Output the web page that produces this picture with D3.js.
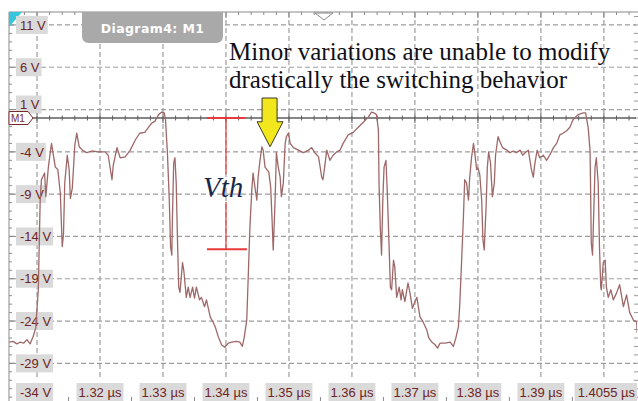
<!DOCTYPE html>
<html><head><meta charset="utf-8">
<script src="https://cdn.jsdelivr.net/npm/d3@7"></script>
<style>html,body{margin:0;padding:0;background:#fff;overflow:hidden}</style>
</head><body><svg id="c" width="638" height="401"></svg>
<script>
// ---- data ----
const timeNs = [
1305.6,1306.2,1306.8,1307.3,1307.9,1308.4,1308.9,1309.4,1309.8,1310.2,
1310.5,1310.7,1311.2,1311.4,1311.8,1312.3,1312.9,1313.3,1313.7,1314.0,
1314.2,1314.4,1314.8,1315.1,1315.3,1315.6,1315.8,1316.0,1316.3,1316.7,
1317.2,1317.9,1318.7,1319.7,1320.8,1321.3,1321.9,1322.1,1322.7,1323.2,
1324.0,1324.8,1325.6,1326.3,1327.1,1328.2,1328.7,1329.3,1329.8,1330.2,
1330.4,1330.7,1331.0,1331.2,1331.4,1331.5,1331.7,1331.9,1332.1,1332.3,
1332.5,1332.7,1333.1,1333.3,1333.7,1334.0,1334.3,1334.7,1335.0,1335.3,
1335.8,1336.1,1336.6,1336.9,1337.5,1338.0,1338.3,1338.8,1339.3,1339.8,
1340.4,1340.9,1341.7,1342.2,1342.6,1342.9,1343.3,1343.5,1343.8,1344.1,
1344.3,1344.6,1344.9,1345.1,1345.4,1345.7,1345.9,1346.2,1346.5,1346.8,
1347.1,1347.3,1347.5,1347.8,1348.0,1348.3,1348.6,1348.8,1349.1,1349.4,
1349.6,1349.9,1350.2,1350.7,1351.5,1352.3,1353.1,1353.6,1354.1,1354.7,
1355.2,1355.4,1355.7,1356.0,1356.5,1357.0,1357.6,1358.1,1358.6,1359.4,
1360.2,1361.0,1361.8,1362.6,1363.1,1363.5,1363.9,1364.2,1364.3,1364.5,
1364.7,1364.9,1365.1,1365.4,1365.6,1365.9,1366.1,1366.3,1366.6,1366.8,
1367.1,1367.5,1367.8,1368.0,1368.4,1368.9,1369.2,1369.6,1369.9,1370.3,
1370.5,1370.8,1371.3,1371.9,1372.2,1372.7,1373.2,1373.6,1374.0,1374.8,
1375.6,1376.1,1376.5,1376.9,1377.1,1377.4,1377.7,1377.9,1378.2,1378.5,
1378.7,1379.0,1379.3,1379.5,1379.8,1380.0,1380.3,1380.6,1380.8,1381.0,
1381.3,1381.5,1381.7,1382.0,1382.3,1382.6,1382.8,1383.2,1383.5,1383.9,
1384.6,1385.1,1385.6,1386.1,1386.7,1387.1,1387.5,1388.0,1388.5,1388.8,
1389.0,1389.4,1389.8,1390.4,1390.9,1391.4,1392.0,1392.5,1393.0,1393.5,
1394.1,1394.6,1395.1,1395.9,1396.7,1397.1,1397.5,1397.8,1397.9,1398.0,
1398.2,1398.4,1398.6,1398.8,1399.1,1399.3,1399.5,1399.6,1399.9,1400.2,
1400.4,1400.7,1401.1,1401.5,1402.0,1402.5,1403.1,1403.6,1404.1,1404.7,
1405.2,1405.3];
const voltage = [
-26.5,-26.4,-26.7,-26.5,-26.6,-26.2,-26.7,-25.8,-24.8,-20.3,
-9.7,-7.3,-6.5,-9.3,-5.8,-3.0,-5.8,-6.1,-8.9,-15.2,
-13.8,-7.7,-4.4,-6.1,-9.5,-8.3,-5.8,-3.2,-1.8,-3.4,
-3.8,-4.1,-3.9,-4.0,-4.0,-4.4,-7.3,-5.6,-3.5,-4.7,
-4.6,-3.8,-2.6,-1.8,-1.7,-0.6,-0.4,0.4,0.7,0.6,
-0.2,-4.1,-9.7,-15.2,-16.2,-11.7,-5.3,-4.7,-7.7,-14.4,
-20.0,-20.6,-17.1,-18.0,-21.2,-20.0,-21.2,-20.0,-21.3,-20.0,
-21.5,-21.2,-22.3,-21.5,-23.5,-24.2,-24.7,-25.9,-26.8,-27.1,
-26.6,-26.5,-26.4,-26.5,-27.0,-25.9,-23.9,-19.5,-12.9,-8.5,
-6.5,-8.2,-9.7,-7.0,-5.0,-3.4,-3.8,-5.8,-6.1,-6.4,
-8.2,-11.7,-15.6,-9.7,-4.1,-5.8,-7.0,-9.3,-7.7,-3.0,
-2.2,-1.8,-3.0,-3.5,-3.8,-4.1,-3.8,-3.5,-4.1,-4.6,
-7.0,-7.3,-5.6,-3.8,-5.0,-4.4,-4.0,-3.8,-3.0,-2.0,
-1.7,-1.1,-0.5,0.1,0.7,0.6,0.4,-1.4,-7.7,-12.9,
-16.2,-9.7,-5.8,-5.0,-8.5,-15.2,-20.0,-20.3,-16.8,-17.6,
-21.2,-20.0,-21.5,-20.3,-21.7,-19.5,-20.6,-22.5,-21.9,-21.2,
-22.1,-23.5,-24.1,-25.1,-26.0,-26.5,-26.8,-27.2,-26.6,-26.6,
-26.5,-27.0,-26.0,-24.7,-22.3,-17.1,-11.7,-7.3,-7.7,-9.7,
-7.0,-4.6,-3.0,-4.1,-6.1,-5.9,-6.7,-9.7,-14.4,-15.6,
-10.5,-5.8,-4.0,-5.3,-9.3,-7.7,-4.4,-2.2,-2.8,-3.5,
-3.8,-4.1,-3.9,-4.1,-3.8,-4.4,-4.1,-3.8,-6.1,-7.0,
-5.6,-3.8,-4.7,-4.4,-5.0,-4.4,-3.5,-3.0,-2.0,-1.8,
-1.5,-1.1,-0.2,0.4,0.6,0.6,-1.1,-3.8,-8.9,-14.8,
-16.2,-10.9,-5.8,-4.7,-7.7,-15.2,-20.0,-20.3,-17.1,-16.8,
-20.0,-21.2,-20.3,-21.5,-20.7,-19.7,-22.3,-20.9,-23.0,-23.9,
-24.1,-25.4];

const yTickValues = [11, 6, 1, -4, -9, -14, -19, -24, -29, -34];
const yTickLabels = ["11 V", "6 V", "1 V", "-4 V", "-9 V", "-14 V", "-19 V", "-24 V", "-29 V", "-34 V"];
const xGridValues = [1310, 1320, 1330, 1340, 1350, 1360, 1370, 1380, 1390, 1400];
const xTickValues = [1320, 1330, 1340, 1350, 1360, 1370, 1380, 1390];
const xTickLabels = ["1.32 µs", "1.33 µs", "1.34 µs", "1.35 µs", "1.36 µs", "1.37 µs", "1.38 µs", "1.39 µs"];
const xEndLabel = "1.4055 µs";
const tabTitle = "Diagram4: M1";
const markerLabel = "M1";
const noteLines = ["Minor variations are unable to modify", "drastically the switching behavior"];
const vthLabel = "Vth";
const vthTime = 1340, vthTop = 0, vthBottom = -15.5;
const arrowTime = 1347.0, arrowTipV = -3.4;

// ---- layout ----
const svg = d3.select("#c");
const L = 9, T = 12, R = 636, B = 401;
const x = d3.scaleLinear().domain([1305.55, 1405.1]).range([L, R]);
const y = d3.scaleLinear().domain([12.53, -33.45]).range([T, B]);
const gridCol = "#9d9d9d", labelFill = "#dadada", labelCol = "#6e2424";
const font = "'Liberation Sans', Arial, sans-serif";

// frame
svg.append("line").attr("x1", L).attr("x2", R + 2).attr("y1", T).attr("y2", T).attr("stroke", "#8a8a8a").attr("stroke-width", 1);
svg.append("line").attr("x1", L).attr("x2", L).attr("y1", T).attr("y2", B).attr("stroke", "#8a8a8a").attr("stroke-width", 1);

// grid
svg.append("g").selectAll("line").data(yTickValues.filter(v => v > -34)).join("line")
  .attr("x1", L).attr("x2", R).attr("y1", d => y(d)).attr("y2", d => y(d))
  .attr("stroke", gridCol).attr("stroke-dasharray", "5,3").attr("stroke-width", 1.2);
svg.append("g").selectAll("line").data(xGridValues).join("line")
  .attr("x1", d => x(d)).attr("x2", d => x(d)).attr("y1", T).attr("y2", 380)
  .attr("stroke", gridCol).attr("stroke-dasharray", "5,3").attr("stroke-width", 1.2);

// rulers: top, left, right, bottom
svg.append("g").selectAll("line").data(d3.range(1310 - 8, 1405, 2)).join("line")
  .attr("x1", d => x(d)).attr("x2", d => x(d)).attr("y1", T)
  .attr("y2", d => (Math.round(d) % 10 === 0) ? T + 6 : T + 3)
  .attr("stroke", "#8a8a8a");
svg.append("g").selectAll("line").data(d3.range(12, -34, -1)).join("line")
  .attr("y1", d => y(d)).attr("y2", d => y(d)).attr("x1", L)
  .attr("x2", d => ((d + 34) % 5 === 0) ? L + 7 : L + 3)
  .attr("stroke", "#8a8a8a");
svg.append("g").selectAll("line").data(d3.range(12, -34, -1)).join("line")
  .attr("y1", d => y(d)).attr("y2", d => y(d)).attr("x1", R - 2).attr("x2", R + 2)
  .attr("stroke", "#9a9a9a");
svg.append("g").selectAll("line").data(d3.range(1315, 1405, 10)).join("line")
  .attr("x1", d => x(d)).attr("x2", d => x(d)).attr("y1", 397).attr("y2", 401)
  .attr("stroke", "#8a8a8a");

// cyan corner
svg.append("path").attr("d", `M${L},${T}L${L + 13},${T}L${L},${T + 15}Z`).attr("fill", "#35c6dc");

// y labels (the last one is pulled up to stay inside the view; "1 V" sits just above the M1 marker)
const yl = svg.append("g");
yTickValues.forEach((v, i) => {
  let cy = Math.min(y(v), 392);
  if (v === 1) cy = y(v) - 5;
  const g = yl.append("g");
  const rect = g.append("rect").attr("fill", labelFill);
  const t = g.append("text").attr("x", 20).attr("y", cy).attr("dy", "0.36em")
    .attr("font-family", font).attr("font-size", 13).attr("fill", labelCol).text(yTickLabels[i]);
  const w = t.node().getComputedTextLength();
  rect.attr("x", 16).attr("y", cy - 9).attr("width", w + 6).attr("height", 18);
});

// x labels
const xl = svg.append("g");
xTickValues.forEach((v, i) => {
  const g = xl.append("g");
  const rect = g.append("rect").attr("fill", labelFill);
  const t = g.append("text").attr("x", x(v)).attr("y", 392).attr("dy", "0.36em").attr("text-anchor", "middle")
    .attr("font-family", font).attr("font-size", 13).attr("fill", labelCol).text(xTickLabels[i]);
  const w = t.node().getComputedTextLength();
  rect.attr("x", x(v) - w / 2 - 2).attr("y", 383).attr("width", w + 4).attr("height", 18);
});
{
  const g = xl.append("g");
  const rect = g.append("rect").attr("fill", labelFill);
  const t = g.append("text").attr("x", 635).attr("y", 392).attr("dy", "0.36em").attr("text-anchor", "end")
    .attr("font-family", font).attr("font-size", 13).attr("fill", labelCol).text(xEndLabel);
  const w = t.node().getComputedTextLength();
  rect.attr("x", 635 - w - 3).attr("y", 383).attr("width", w + 5).attr("height", 18);
}

// zero (M1) reference line with ticks
const y0 = y(0);
svg.append("line").attr("x1", L).attr("x2", R).attr("y1", y0).attr("y2", y0).attr("stroke", "#5e5e5e").attr("stroke-width", 1.4);
svg.append("g").selectAll("line").data(d3.range(1306, 1405, 2)).join("line")
  .attr("x1", d => x(d)).attr("x2", d => x(d))
  .attr("y1", d => (d % 10 === 0) ? y0 - 5 : y0 - 2.5)
  .attr("y2", d => (d % 10 === 0) ? y0 + 5 : y0 + 2.5)
  .attr("stroke", "#5e5e5e").attr("stroke-width", 1);

// waveform
svg.append("clipPath").attr("id", "pc").append("rect").attr("x", L).attr("y", T).attr("width", R - L + 1).attr("height", B - T);
const pts = timeNs.map((t, i) => [t, voltage[i]]);
svg.append("path").datum(pts).attr("clip-path", "url(#pc)")
  .attr("d", d3.line().x(d => x(d[0])).y(d => y(d[1])))
  .attr("fill", "none").attr("stroke", "#9e6868").attr("stroke-width", 1.3).attr("stroke-linejoin", "round");

// M1 marker
svg.append("path").attr("d", `M${L},${y0 - 6.5}L${L + 19},${y0 - 6.5}L${L + 24},${y0}L${L + 19},${y0 + 6.5}L${L},${y0 + 6.5}Z`)
  .attr("fill", "#fff").attr("stroke", "#7a2a2a").attr("stroke-width", 1);
svg.append("text").attr("x", L + 2).attr("y", y0).attr("dy", "0.36em").attr("font-family", font)
  .attr("font-size", 10).attr("fill", "#7a2a2a").text(markerLabel);

// small trigger triangle at top
svg.append("path").attr("d", `M315,${T + 1}L333,${T + 1}L324,${T + 8}Z`).attr("fill", "#fff").attr("stroke", "#8a8a8a");

// tab
svg.append("path").attr("d", "M82,12 L223,12 L223,36 Q223,43 216,43 L89,43 Q82,43 82,36 Z").attr("fill", "#a9a9a9");
svg.append("text").attr("x", 152.5).attr("y", 28).attr("dy", "0.36em").attr("text-anchor", "middle")
  .attr("font-family", "'DejaVu Sans', Verdana, sans-serif").attr("font-weight", "bold").attr("font-size", 12.5)
  .attr("fill", "#fff").attr("letter-spacing", 0.4).text(tabTitle);

// annotation text
noteLines.forEach((s, i) => {
  svg.append("text").attr("x", 229).attr("y", 60 + i * 28.2)
    .attr("font-family", "'Liberation Serif', 'Times New Roman', serif").attr("font-size", 25)
    .attr("fill", "#101018").text(s);
});

// Vth bracket
const red = "#e8393b";
const bx = x(vthTime);
svg.append("line").attr("x1", bx - 19).attr("x2", bx + 19).attr("y1", y(vthTop)).attr("y2", y(vthTop)).attr("stroke", red).attr("stroke-width", 2);
svg.append("line").attr("x1", bx - 19).attr("x2", bx + 21).attr("y1", y(vthBottom)).attr("y2", y(vthBottom)).attr("stroke", red).attr("stroke-width", 2);
svg.append("line").attr("x1", bx).attr("x2", bx).attr("y1", y(vthTop)).attr("y2", 174).attr("stroke", red).attr("stroke-width", 1.2);
svg.append("line").attr("x1", bx).attr("x2", bx).attr("y1", 202).attr("y2", y(vthBottom)).attr("stroke", red).attr("stroke-width", 1.2);
svg.append("text").attr("x", 203).attr("y", 197).attr("font-family", "'Liberation Serif', 'Times New Roman', serif")
  .attr("font-style", "italic").attr("font-size", 29).attr("fill", "#16284a").text(vthLabel);

// yellow arrow
const ax = x(arrowTime), ay = y(arrowTipV);
svg.append("path").attr("d", `M${ax - 8},98 L${ax + 7},98 L${ax + 7},${ay - 25} L${ax + 13},${ay - 25} L${ax},${ay} L${ax - 13},${ay - 25} L${ax - 8},${ay - 25} Z`)
  .attr("fill", "#f2e61c").attr("stroke", "#3a3a2a").attr("stroke-width", 1);
</script></body></html>
